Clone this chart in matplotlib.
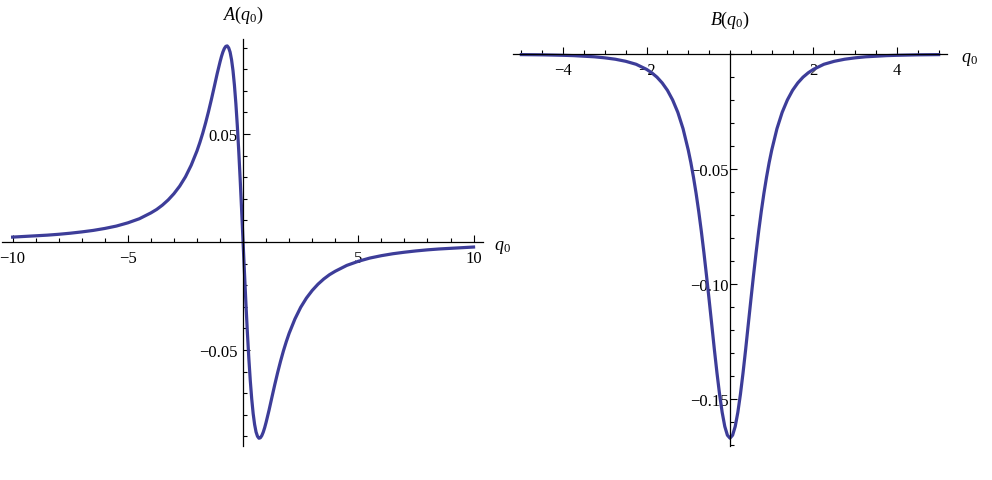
import numpy as np
import matplotlib
matplotlib.use('Agg')
import matplotlib.pyplot as plt
from matplotlib.ticker import MultipleLocator

plt.rcParams['font.family'] = 'Liberation Serif'
plt.rcParams['mathtext.fontset'] = 'custom'
plt.rcParams['mathtext.rm'] = 'Liberation Serif'
plt.rcParams['mathtext.it'] = 'Liberation Serif:italic'

# A(q0) (odd in q0)
qa_pos = [0, 0.0625, 0.125, 0.1875, 0.25, 0.3125, 0.375, 0.4375, 0.5, 0.5625,
          0.625, 0.6875, 0.75, 0.8125, 0.875, 0.9375, 1.0, 1.125, 1.25, 1.375,
          1.5, 1.625, 1.75, 1.875, 2.0, 2.25, 2.5, 2.75, 3.0, 3.25, 3.5, 3.75,
          4.0, 4.5, 5.0, 5.5, 6.0, 6.5, 7.0, 7.5, 8.0, 8.5, 9.0, 9.5, 10.0]
a_pos = [0, -0.0147, -0.0288, -0.0420, -0.0539, -0.0641, -0.0726, -0.0794,
         -0.0844, -0.0879, -0.0899, -0.0908, -0.0906, -0.0896, -0.0880, -0.0859,
         -0.0834, -0.0779, -0.0719, -0.0660, -0.0604, -0.0552, -0.0504, -0.0461,
         -0.0422, -0.0356, -0.0302, -0.0259, -0.0224, -0.0195, -0.0171, -0.0151,
         -0.0135, -0.0108, -0.0089, -0.0074, -0.0063, -0.0054, -0.0047, -0.0041,
         -0.0036, -0.0032, -0.0029, -0.0026, -0.0023]

# B(q0) (even in q0)
qb_pos = [0, 0.0625, 0.125, 0.1875, 0.25, 0.3125, 0.375, 0.4375, 0.5, 0.5625,
          0.625, 0.6875, 0.75, 0.8125, 0.875, 0.9375, 1.0, 1.125, 1.25, 1.375,
          1.5, 1.625, 1.75, 1.875, 2.0, 2.25, 2.5, 2.75, 3.0, 3.25, 3.5, 3.75,
          4.0, 4.5, 5.0]
b_pos = [-0.167, -0.1657, -0.1619, -0.1558, -0.1479, -0.1386, -0.1284, -0.1176,
         -0.1069, -0.0964, -0.0864, -0.0770, -0.0684, -0.0606, -0.0536, -0.0473,
         -0.0418, -0.0325, -0.0254, -0.0200, -0.0158, -0.0126, -0.0101, -0.0082,
         -0.0067, -0.0045, -0.0032, -0.0023, -0.0017, -0.00125, -0.0010, -0.00074,
         -0.0006, -0.0004, -0.0003]

a_xticks = [-10, -5, 5, 10]
a_xticklabels = ['\u221210', '\u22125', '5', '10']
a_yticks = [-0.05, 0.05]
a_yticklabels = ['\u22120.05', '0.05']
b_xticks = [-4, -2, 2, 4]
b_xticklabels = ['\u22124', '\u22122', '2', '4']
b_yticks = [-0.15, -0.10, -0.05]
b_yticklabels = ['\u22120.15', '\u22120.10', '\u22120.05']

qa = np.concatenate([-np.array(qa_pos[:0:-1]), qa_pos])
av = np.concatenate([-np.array(a_pos[:0:-1]), a_pos])
qb = np.concatenate([-np.array(qb_pos[:0:-1]), qb_pos])
bv = np.concatenate([np.array(b_pos[:0:-1]), b_pos])

line_col = '#3d3d99'
W, H = 992, 481
fig = plt.figure(figsize=(W / 100, H / 100), dpi=100)


def make_axes(x0, x1, y0, y1):
    ax = fig.add_axes([x0 / W, 1 - y1 / H, (x1 - x0) / W, (y1 - y0) / H])
    for s in ['top', 'right']:
        ax.spines[s].set_visible(False)
    for s in ['left', 'bottom']:
        ax.spines[s].set_position(('data', 0))
        ax.spines[s].set_linewidth(0.9)
    ax.tick_params(which='both', direction='in', width=0.8, labelsize=12)
    ax.tick_params(which='major', length=5)
    ax.tick_params(which='minor', length=3)
    return ax


# left panel
ax1 = make_axes(2, 483, 40, 447)
ax1.plot(qa, av, color=line_col, lw=2.3, solid_joinstyle='round')
ax1.set_xlim(-10.46, 10.41)
ax1.set_ylim(-0.0944, 0.094)
ax1.set_xticks(a_xticks)
ax1.set_xticklabels(a_xticklabels)
ax1.xaxis.set_minor_locator(MultipleLocator(1))
ax1.set_yticks(a_yticks)
ax1.set_yticklabels(a_yticklabels)
ax1.yaxis.set_minor_locator(MultipleLocator(0.01))
ax1.tick_params(axis='x', pad=6)
ax1.tick_params(axis='y', pad=4)
ax1.annotate(r'$A(q_0)$', xy=(0, 0.094), xytext=(0, 18), textcoords='offset points',
             ha='center', va='center', fontsize=13, annotation_clip=False)
ax1.annotate(r'$q_0$', xy=(10.41, 0), xytext=(8, -3), textcoords='offset points',
             ha='left', va='center', fontsize=13, annotation_clip=False)

# right panel
ax2 = make_axes(513, 947, 54, 447)
ax2.plot(qb, bv, color=line_col, lw=2.3, solid_joinstyle='round')
ax2.set_xlim(-5.2, 5.2)
ax2.set_ylim(-0.1704, 0.0004)
ax2.set_xticks(b_xticks)
ax2.set_xticklabels(b_xticklabels)
ax2.xaxis.set_minor_locator(MultipleLocator(0.5))
ax2.set_yticks(b_yticks)
ax2.set_yticklabels(b_yticklabels)
ax2.yaxis.set_minor_locator(MultipleLocator(0.01))
ax2.tick_params(axis='x', pad=6)
ax2.tick_params(axis='y', pad=1)
ax2.annotate(r'$B(q_0)$', xy=(0, 0.0004), xytext=(0, 24), textcoords='offset points',
             ha='center', va='center', fontsize=13, annotation_clip=False)
ax2.annotate(r'$q_0$', xy=(5.2, 0), xytext=(10, -3), textcoords='offset points',
             ha='left', va='center', fontsize=13, annotation_clip=False)

fig.savefig('out.png', dpi=100)
